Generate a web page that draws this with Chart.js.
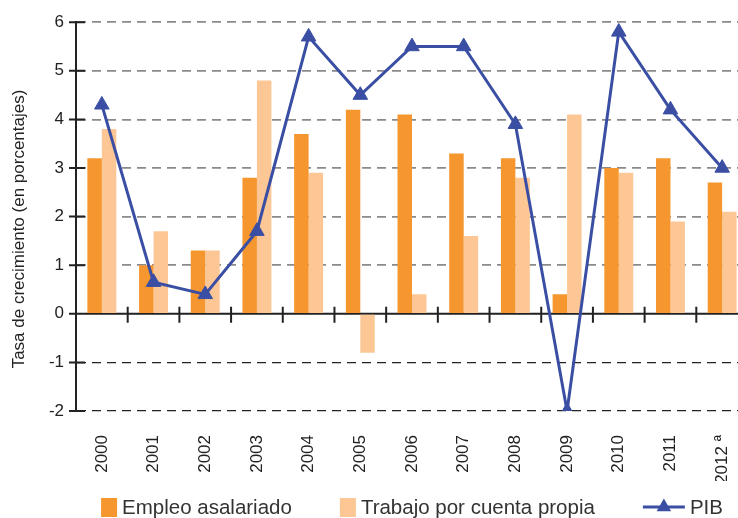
<!DOCTYPE html>
<html>
<head>
  <meta charset="utf-8">
  <title>Tasa de crecimiento del empleo y del PIB</title>
  <script src="https://cdn.jsdelivr.net/npm/chart.js"></script>
  <style>
    html, body { margin: 0; padding: 0; overflow: hidden; background: #fff; }
    #wrap { position: relative; width: 738px; height: 518px; overflow: hidden; }
    #chart { position: absolute; left: 0; top: 0; }
  </style>
</head>
<body>
  <div id="wrap">
    <canvas id="chart" width="760" height="518"></canvas>
  </div>
  <script>
    // años (2012 preliminar)
    const anios = ['2000', '2001', '2002', '2003', '2004', '2005', '2006',
                   '2007', '2008', '2009', '2010', '2011', '2012 ª'];

    // tasas de crecimiento, en porcentajes
    const asalariado = [3.2, 1.0, 1.3, 2.8, 3.7, 4.2, 4.1, 3.3, 3.2, 0.4, 3.0, 3.2, 2.7];
    const cuentaPropia = [3.8, 1.7, 1.3, 4.8, 2.9, -0.8, 0.4, 1.6, 2.8, 4.1, 2.9, 1.9, 2.1];
    const pib = [4.3, 0.65, 0.4, 1.7, 5.7, 4.5, 5.5, 5.5, 3.9, -2.0, 5.8, 4.2, 3.0];

    const yTicks = [-2, -1, 0, 1, 2, 3, 4, 5, 6];

    const NARANJA = '#F6962F';
    const DURAZNO = '#FDC795';
    const AZUL = '#3A4FA3';
    const TINTA = '#222';

    Chart.defaults.font.family = "'Liberation Sans', Arial, sans-serif";
    Chart.defaults.color = TINTA;

    // eje cero con marcas que lo cruzan, marcas del eje vertical
    const ejes = {
      id: 'ejes',
      beforeDatasetsDraw(chart) {
        const { ctx, chartArea: a, scales: { y } } = chart;
        const y0 = y.getPixelForValue(0);
        const paso = (a.right - a.left) / anios.length;
        ctx.save();
        ctx.strokeStyle = TINTA;
        ctx.lineWidth = 2;
        ctx.beginPath();
        ctx.moveTo(a.left, y0);
        ctx.lineTo(a.right, y0);
        for (let i = 1; i <= anios.length; i++) {
          const px = a.left + i * paso;
          ctx.moveTo(px, y0 - 7);
          ctx.lineTo(px, y0 + 9);
        }
        yTicks.forEach(v => {
          const py = y.getPixelForValue(v);
          ctx.moveTo(a.left - 7, py);
          ctx.lineTo(a.left + 9, py);
        });
        ctx.stroke();
        ctx.restore();
      },
      afterDraw(chart) {
        const { ctx, chartArea: a } = chart;
        ctx.save();
        // título del eje vertical
        ctx.fillStyle = TINTA;
        ctx.font = "17px 'Liberation Sans', Arial, sans-serif";
        ctx.textAlign = 'center';
        ctx.textBaseline = 'middle';
        ctx.translate(19, 229);
        ctx.rotate(-Math.PI / 2);
        ctx.fillText('Tasa de crecimiento (en porcentajes)', 0, 0);
        ctx.restore();

        // leyenda
        ctx.save();
        ctx.font = "20.5px 'Liberation Sans', Arial, sans-serif";
        ctx.textBaseline = 'middle';
        const items = chart.data.datasets.map(ds => ({
          label: ds.label,
          color: ds.backgroundColor,
          linea: ds.type === 'line',
          sym: ds.type === 'line' ? 42 : 16,
          w: ctx.measureText(ds.label).width
        }));
        const hueco = 5, sep = 48, cy = 507;
        let total = 0;
        items.forEach((it, i) => { total += it.sym + hueco + it.w + (i ? sep : 0); });
        let cx = (a.left + a.right) / 2 - total / 2;
        items.forEach(it => {
          if (it.linea) {
            ctx.strokeStyle = it.color;
            ctx.lineWidth = 3;
            ctx.beginPath();
            ctx.moveTo(cx, cy);
            ctx.lineTo(cx + it.sym, cy);
            ctx.stroke();
            const r = 8.4, mx = cx + it.sym / 2;
            ctx.fillStyle = it.color;
            ctx.beginPath();
            ctx.moveTo(mx, cy - r);
            ctx.lineTo(mx + r * Math.sin(2 * Math.PI / 3), cy + r / 2);
            ctx.lineTo(mx - r * Math.sin(2 * Math.PI / 3), cy + r / 2);
            ctx.closePath();
            ctx.fill();
          } else {
            ctx.fillStyle = it.color;
            ctx.fillRect(cx, cy - 9, it.sym, 19);
          }
          cx += it.sym + hueco;
          ctx.fillStyle = '#333';
          ctx.fillText(it.label, cx, cy + 1);
          cx += it.w + sep;
        });
        ctx.restore();
      }
    };

    new Chart(document.getElementById('chart'), {
      data: {
        labels: anios,
        datasets: [
          {
            type: 'bar', label: 'Empleo asalariado', data: asalariado, order: 1,
            backgroundColor: NARANJA, categoryPercentage: 0.56, barPercentage: 1
          },
          {
            type: 'bar', label: 'Trabajo por cuenta propia', data: cuentaPropia, order: 1,
            backgroundColor: DURAZNO, categoryPercentage: 0.56, barPercentage: 1
          },
          {
            type: 'line', label: 'PIB', data: pib, order: 0,
            borderColor: AZUL, backgroundColor: AZUL, borderWidth: 3,
            pointStyle: 'triangle', pointRadius: 8.4,
            pointBackgroundColor: AZUL, pointBorderColor: AZUL, pointBorderWidth: 1,
            tension: 0
          }
        ]
      },
      options: {
        responsive: false,
        animation: false,
        devicePixelRatio: 1,
        layout: { padding: { top: 21, right: 12, bottom: 37, left: 0 } },
        plugins: {
          legend: { display: false },
          tooltip: { enabled: false }
        },
        scales: {
          x: {
            grid: { display: false },
            border: { display: false },
            ticks: {
              autoSkip: false, maxRotation: 90, minRotation: 90,
              padding: 16, font: { size: 17 }, color: TINTA
            },
            afterFit: s => { s.height = 70; }
          },
          y: {
            min: -2, max: 6,
            afterBuildTicks: s => { s.ticks = yTicks.map(v => ({ value: v })); },
            ticks: { padding: 12, font: { size: 17 }, color: TINTA },
            grid: {
              drawTicks: false,
              color: c => c.tick.value < 0 ? '#222' : (c.tick.value === 0 ? 'rgba(0,0,0,0)' : '#8a8a8a'),
              lineWidth: c => c.tick.value < 0 ? 1.2 : 1.7
            },
            border: { color: TINTA, width: 2, dash: [9, 6] },
            afterFit: s => { s.width = 76; }
          }
        }
      },
      plugins: [ejes]
    });
  </script>
</body>
</html>
